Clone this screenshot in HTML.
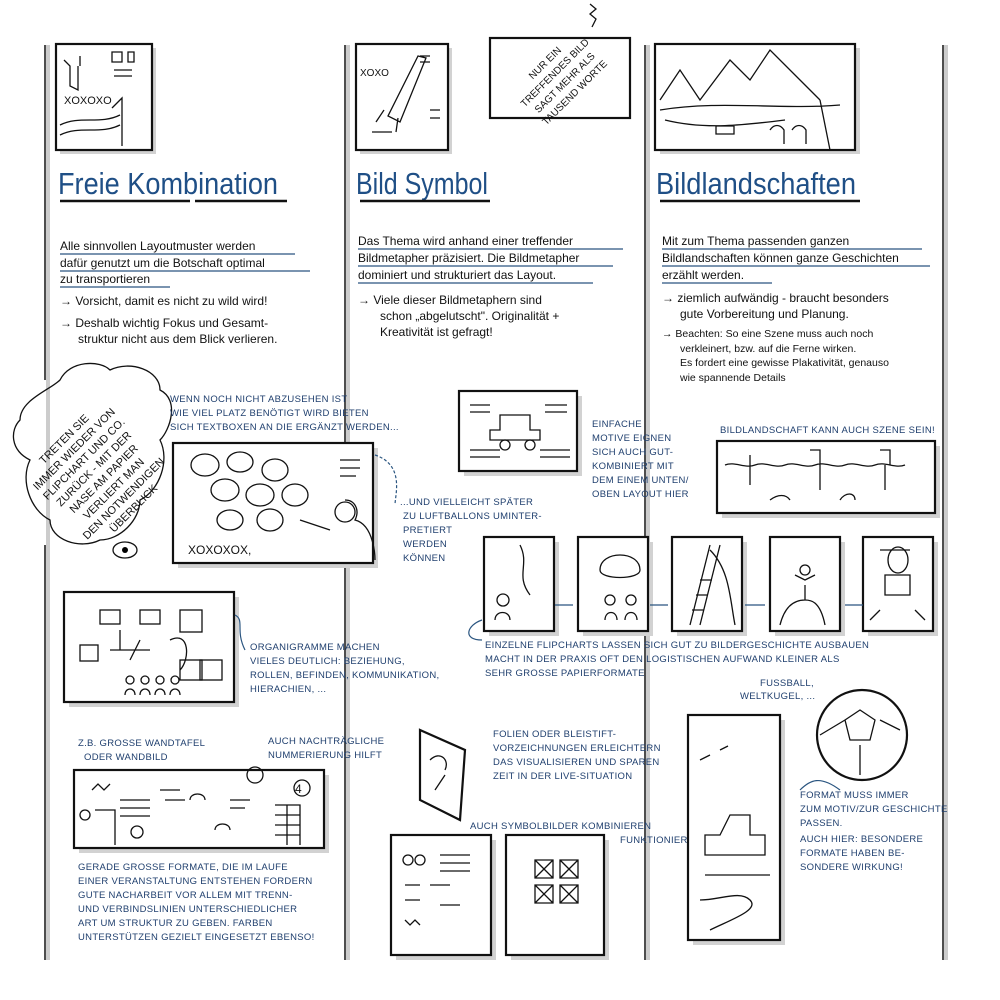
<!DOCTYPE html>
<html><head><meta charset="utf-8"><style>
html,body{margin:0;padding:0;background:#fff}
svg{display:block}
text{font-family:"Liberation Sans Narrow","Liberation Sans",sans-serif}
.b{fill:#1f3f6e}.k{fill:#111}
.h{font-size:31px;fill:#1f4f86;font-family:"Liberation Sans Narrow","Liberation Sans",sans-serif}
.t{font-size:12px;fill:#111}
.s{font-size:9.5px;fill:#1f3f6e;letter-spacing:.3px}
.r{fill:#fff;stroke:#111;stroke-width:2.2}
.l{fill:none;stroke:#111;stroke-width:1.3}
.u{stroke:#2a5580;stroke-width:1.2;fill:none}
.sh{fill:#d2d2d2}
</style></head><body>
<svg width="1000" height="1000" viewBox="0 0 1000 1000" xmlns="http://www.w3.org/2000/svg">
<g stroke="#ccc" stroke-width="4"><line x1="48" y1="45" x2="48" y2="960"/><line x1="348" y1="45" x2="348" y2="960"/><line x1="648" y1="45" x2="648" y2="960"/><line x1="946" y1="45" x2="946" y2="960"/></g>
<g stroke="#222" stroke-width="1.6"><line x1="45" y1="45" x2="45" y2="380"/><line x1="45" y1="545" x2="45" y2="960"/><line x1="345" y1="45" x2="345" y2="960"/><line x1="645" y1="45" x2="645" y2="960"/><line x1="943" y1="45" x2="943" y2="960"/></g>
<rect class="sh" x="60" y="48" width="96" height="106"/><rect class="r" x="56" y="44" width="96" height="106"/>
<path class="l" d="M64 60l6 6v20l8 4v-24M80 56v10M112 52h10v10h-10zM128 52h6v10h-6zM114 70h18M114 76h18M60 125c20-10 40 0 60-10M60 135c20-10 40 0 60-10M112 108l10-10v48"/>
<text x="64" y="104" style="font-size:11px" class="k">XOXOXO</text>
<rect class="sh" x="360" y="48" width="92" height="106"/><rect class="r" x="356" y="44" width="92" height="106"/>
<path class="l" d="M418 56l-30 60l12 6l26-64zM384 110l-8 12M398 118l-2 14M372 132h20M430 110h10M430 118h10M420 56h10M420 62h10"/>
<text x="360" y="76" style="font-size:10px" class="k">XOXO</text>
<rect class="r" x="490" y="38" width="140" height="80"/>
<path class="l" d="M590 4l6 5-6 5 6 5-4 8"/>
<g transform="translate(560 78) rotate(-45)" class="k" style="font-size:10px" text-anchor="middle"><text y="-18">NUR EIN</text><text y="-4">TREFFENDES BILD</text><text y="10">SAGT MEHR ALS</text><text y="24">TAUSEND WORTE</text></g>
<rect class="sh" x="660" y="48" width="200" height="106"/><rect class="r" x="655" y="44" width="200" height="106"/>
<path class="l" d="M660 100l20-30 20 30 30-40 20 20 20-30 30 30 20 20M660 110c60-10 120 0 180-5M665 120c40 10 80 5 120 0M770 130c4-6 10-6 14 0v14M792 130c4-6 10-6 14 0v14M716 126h18v8h-18zM820 100l10 50"/>
<text class="h" x="58" y="194" textLength="220" lengthAdjust="spacingAndGlyphs">Freie Kombination</text>
<path stroke="#111" stroke-width="2.5" d="M60 201h130M195 201h92"/>
<text class="h" x="356" y="194" textLength="132" lengthAdjust="spacingAndGlyphs">Bild Symbol</text>
<path stroke="#111" stroke-width="2.5" d="M360 201h130"/>
<text class="h" x="656" y="194" textLength="200" lengthAdjust="spacingAndGlyphs">Bildlandschaften</text>
<path stroke="#111" stroke-width="2.5" d="M660 201h200"/>
<g class="t">
<text x="60" y="250">Alle sinnvollen Layoutmuster werden</text>
<text x="60" y="267">dafür genutzt um die Botschaft optimal</text>
<text x="60" y="283">zu transportieren</text>
<text x="60" y="305">→ Vorsicht, damit es nicht zu wild wird!</text>
<text x="60" y="327">→ Deshalb wichtig Fokus und Gesamt-</text>
<text x="78" y="343">struktur nicht aus dem Blick verlieren.</text>
<text x="358" y="245">Das Thema wird anhand einer treffender</text>
<text x="358" y="262">Bildmetapher präzisiert. Die Bildmetapher</text>
<text x="358" y="279">dominiert und strukturiert das Layout.</text>
<text x="358" y="304">→ Viele dieser Bildmetaphern sind</text>
<text x="380" y="320">schon „abgelutscht". Originalität +</text>
<text x="380" y="336">Kreativität ist gefragt!</text>
<text x="662" y="245">Mit zum Thema passenden ganzen</text>
<text x="662" y="262">Bildlandschaften können ganze Geschichten</text>
<text x="662" y="279">erzählt werden.</text>
<text x="662" y="302">→ ziemlich aufwändig - braucht besonders</text>
<text x="680" y="318">gute Vorbereitung und Planung.</text>
<text x="662" y="337" style="font-size:10.5px">→ Beachten: So eine Szene muss auch noch</text>
<text x="680" y="352" style="font-size:10.5px">verkleinert, bzw. auf die Ferne wirken.</text>
<text x="680" y="366" style="font-size:10.5px">Es fordert eine gewisse Plakativität, genauso</text>
<text x="680" y="381" style="font-size:10.5px">wie spannende Details</text>
</g>
<g class="u"><path d="M60 254h235M60 271h250M60 287h110M358 249h265M358 266h255M358 283h235M662 249h260M662 266h268M662 283h110"/></g>
<path class="l" d="M20 420c0-20 30-30 40-40c10-20 40-20 50-10c20-10 50 0 50 20c20 10 10 40 0 50c10 20 0 50-20 60c0 20-20 40-40 40c-20 10-50 0-50-20c-20-10-30-40-20-60c-20-10-20-30-10-40z"/>
<g transform="translate(95 470) rotate(-45)" class="k" style="font-size:11px" text-anchor="middle"><text y="-40">TRETEN SIE</text><text y="-26">IMMER WIEDER VON</text><text y="-12">FLIPCHART UND CO.</text><text y="2">ZURÜCK - MIT DER</text><text y="16">NASE AM PAPIER</text><text y="30">VERLIERT MAN</text><text y="44">DEN NOTWENDIGEN</text><text y="58">ÜBERBLICK</text></g>
<ellipse class="l" cx="125" cy="550" rx="12" ry="8"/><circle cx="125" cy="550" r="3"/>
<g class="s"><text x="170" y="402">WENN NOCH NICHT ABZUSEHEN IST</text><text x="170" y="416">WIE VIEL PLATZ BENÖTIGT WIRD BIETEN</text><text x="170" y="430">SICH TEXTBOXEN AN DIE ERGÄNZT WERDEN...</text>
<text x="400" y="505">...UND VIELLEICHT SPÄTER</text><text x="403" y="519">ZU LUFTBALLONS UMINTER-</text><text x="403" y="533">PRETIERT</text><text x="403" y="547">WERDEN</text><text x="403" y="561">KÖNNEN</text></g>
<rect class="sh" x="178" y="448" width="200" height="120"/><rect class="r" x="173" y="443" width="200" height="120"/>
<g class="l"><ellipse cx="205" cy="465" rx="14" ry="11"/><ellipse cx="240" cy="462" rx="13" ry="10"/><ellipse cx="275" cy="470" rx="13" ry="11"/><ellipse cx="225" cy="490" rx="14" ry="11"/><ellipse cx="260" cy="495" rx="14" ry="11"/><ellipse cx="295" cy="495" rx="13" ry="11"/><ellipse cx="230" cy="520" rx="13" ry="10"/><ellipse cx="270" cy="520" rx="13" ry="11"/><path d="M340 460h20M340 468h20M340 476h16M300 520l30 10M345 500c10 0 15 10 10 20c20 5 20 40 20 40"/><circle cx="345" cy="512" r="10"/></g>
<text x="188" y="554" class="k" style="font-size:12px">XOXOXOX,</text>
<path class="u" stroke-dasharray="3 2" d="M375 455c30 10 20 40 20 50"/>
<rect class="sh" x="69" y="597" width="170" height="110"/><rect class="r" x="64" y="592" width="170" height="110"/>
<g class="l"><rect x="100" y="610" width="20" height="14"/><rect x="140" y="610" width="20" height="14"/><rect x="80" y="645" width="18" height="16"/><rect x="180" y="610" width="22" height="22"/><rect x="180" y="660" width="22" height="20"/><rect x="200" y="660" width="22" height="20"/><path d="M120 630v20M110 650h40M130 660l10-20M170 640c20-10 20 20 10 30"/><circle cx="130" cy="680" r="4"/><circle cx="145" cy="680" r="4"/><circle cx="160" cy="680" r="4"/><circle cx="175" cy="680" r="4"/><path d="M125 695c0-8 10-8 10 0M140 695c0-8 10-8 10 0M155 695c0-8 10-8 10 0M170 695c0-8 10-8 10 0"/></g>
<g class="s"><text x="250" y="650">ORGANIGRAMME MACHEN</text><text x="250" y="664">VIELES DEUTLICH: BEZIEHUNG,</text><text x="250" y="678">ROLLEN, BEFINDEN, KOMMUNIKATION,</text><text x="250" y="692">HIERACHIEN, ...</text></g>
<path class="u" d="M245 650c-10-20 0-30-10-35"/>
<g class="s"><text x="78" y="746">Z.B. GROSSE WANDTAFEL</text><text x="84" y="760">ODER WANDBILD</text><text x="268" y="744">AUCH NACHTRÄGLICHE</text><text x="268" y="758">NUMMERIERUNG HILFT</text></g>
<rect class="sh" x="79" y="775" width="250" height="78"/><rect class="r" x="74" y="770" width="250" height="78"/>
<g class="l"><circle cx="85" cy="815" r="5"/><circle cx="255" cy="775" r="8"/><circle cx="302" cy="788" r="8"/><circle cx="137" cy="832" r="6"/><path d="M92 790l6-6 6 6 6-6M120 800h30M120 808h30M120 816h30M160 790h20M165 800h20M230 800h20M230 808h15M95 810h20v35M275 805h25v40M275 815h25M275 825h25M275 835h25M287 805v40M190 800c0-8 15-8 15 0M215 830c0-8 15-8 15 0"/></g>
<text x="295" y="793" class="k" style="font-size:12px">4</text>
<g class="s"><text x="78" y="870">GERADE GROSSE FORMATE, DIE IM LAUFE</text><text x="78" y="884">EINER VERANSTALTUNG ENTSTEHEN FORDERN</text><text x="78" y="898">GUTE NACHARBEIT VOR ALLEM MIT TRENN-</text><text x="78" y="912">UND VERBINDSLINIEN UNTERSCHIEDLICHER</text><text x="78" y="926">ART UM STRUKTUR ZU GEBEN. FARBEN</text><text x="78" y="940">UNTERSTÜTZEN GEZIELT EINGESETZT EBENSO!</text></g>
<rect class="sh" x="464" y="396" width="118" height="80"/><rect class="r" x="459" y="391" width="118" height="80"/>
<g class="l"><path d="M470 405h20M470 412h20M545 405h22M545 412h22M500 415h30v15h10v10h-50v-10h10zM470 450h30M470 457h30M540 450h30M540 457h30"/><circle cx="505" cy="445" r="5"/><circle cx="530" cy="445" r="5"/></g>
<g class="s"><text x="592" y="427">EINFACHE</text><text x="592" y="441">MOTIVE EIGNEN</text><text x="592" y="455">SICH AUCH GUT-</text><text x="592" y="469">KOMBINIERT MIT</text><text x="592" y="483">DEM EINEM UNTEN/</text><text x="592" y="497">OBEN LAYOUT HIER</text>
<text x="720" y="433">BILDLANDSCHAFT KANN AUCH SZENE SEIN!</text></g>
<rect class="sh" x="722" y="446" width="218" height="72"/><rect class="r" x="717" y="441" width="218" height="72"/>
<path class="l" d="M725 465c10-4 20 4 30 0s20 4 30 0 20 4 30 0 20 4 30 0 20 4 30 0 20 4 30 0M750 455v30M810 450h10v15M820 465v25M880 450h10v15M885 465v25M770 500c8-6 16-6 20 0M840 500c5-8 15-8 15 0"/>
<g><rect class="sh" x="489" y="542" width="70" height="94"/><rect class="r" x="484" y="537" width="70" height="94"/>
<rect class="sh" x="583" y="542" width="70" height="94"/><rect class="r" x="578" y="537" width="70" height="94"/>
<rect class="sh" x="677" y="542" width="70" height="94"/><rect class="r" x="672" y="537" width="70" height="94"/>
<rect class="sh" x="775" y="542" width="70" height="94"/><rect class="r" x="770" y="537" width="70" height="94"/>
<rect class="sh" x="868" y="542" width="70" height="94"/><rect class="r" x="863" y="537" width="70" height="94"/></g>
<g class="l"><path d="M520 545c10 20-5 30 10 50M495 620c0-10 15-10 15 0M600 570c0-20 40-20 40 0c0 10-40 10-40 0M605 620c0-10 12-10 12 0M625 620c0-10 12-10 12 0M690 625l20-80M700 625l20-80M692 610h12M696 595h12M700 580h12M710 550c20 20 20 50 25 75M780 625c5-20 15-25 25-25c5 0 15 0 20 25M805 585v15M795 575l10 5 10-5M880 550l30 0M885 575h25v20h-25zM870 620l10-10M925 620l-10-10"/><circle cx="503" cy="600" r="6"/><circle cx="610" cy="600" r="5"/><circle cx="631" cy="600" r="5"/><circle cx="805" cy="570" r="5"/><ellipse cx="898" cy="560" rx="10" ry="13"/></g>
<path class="u" d="M555 605h18M650 605h18M745 605h20M845 605h18M482 640c-20 0 -15-15 0-20"/>
<g class="s"><text x="485" y="648">EINZELNE FLIPCHARTS LASSEN SICH GUT ZU BILDERGESCHICHTE AUSBAUEN</text><text x="485" y="662">MACHT IN DER PRAXIS OFT DEN LOGISTISCHEN AUFWAND KLEINER ALS</text><text x="485" y="676">SEHR GROSSE PAPIERFORMATE</text>
<text x="760" y="686">FUSSBALL,</text><text x="740" y="699">WELTKUGEL, ...</text>
<text x="493" y="737">FOLIEN ODER BLEISTIFT-</text><text x="493" y="751">VORZEICHNUNGEN ERLEICHTERN</text><text x="493" y="765">DAS VISUALISIEREN UND SPAREN</text><text x="493" y="779">ZEIT IN DER LIVE-SITUATION</text>
<text x="470" y="829">AUCH SYMBOLBILDER KOMBINIEREN</text><text x="620" y="843">FUNKTIONIERT</text>
<text x="800" y="798">FORMAT MUSS IMMER</text><text x="800" y="812">ZUM MOTIV/ZUR GESCHICHTE</text><text x="800" y="826">PASSEN.</text><text x="800" y="842">AUCH HIER: BESONDERE</text><text x="800" y="856">FORMATE HABEN BE-</text><text x="800" y="870">SONDERE WIRKUNG!</text></g>
<path class="r" d="M420 730l45 20-5 70-40-20z"/><path class="l" d="M430 760c10-10 20 0 15 10M435 790l10-15"/>
<rect class="sh" x="396" y="840" width="100" height="120"/><rect class="r" x="391" y="835" width="100" height="120"/>
<g class="l"><circle cx="408" cy="860" r="5"/><circle cx="420" cy="860" r="5"/><path d="M440 855h30M440 863h30M440 871h30M405 885h15M430 885h20M405 900h15M440 905h20M405 920l5 5 5-5 5 5"/></g>
<rect class="sh" x="511" y="840" width="98" height="120"/><rect class="r" x="506" y="835" width="98" height="120"/>
<g class="l"><path d="M535 860h18v18h-18zM560 860h18v18h-18zM535 885h18v18h-18zM560 885h18v18h-18zM535 860l18 18M553 860l-18 18M560 860l18 18M578 860l-18 18M535 885l18 18M553 885l-18 18M560 885l18 18M578 885l-18 18"/></g>
<rect class="sh" x="693" y="720" width="92" height="225"/><rect class="r" x="688" y="715" width="92" height="225"/>
<path class="l" d="M700 760l10-5M720 750l8-4M730 815h20v20h15v20h-60v-20h15zM705 875h65M700 900c20 0 40-10 50 0s-20 20 -40 30"/>
<circle class="r" cx="862" cy="735" r="45"/><path class="l" d="M845 720l15-10 15 10-5 20h-20zM820 735l25-15M880 720l20 10M860 745v30"/>
<path class="u" d="M840 790c-20-15-30-10-40 0"/>
</svg>
</body></html>
